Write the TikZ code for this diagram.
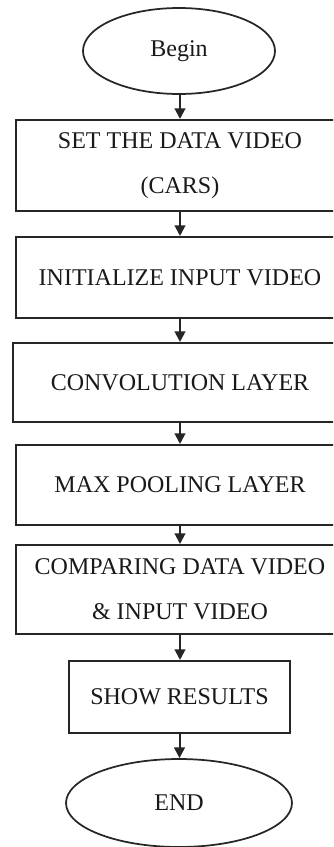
\documentclass[tikz,border=0pt]{standalone}
\usepackage{fontspec}
\setmainfont{Liberation Serif}
\usetikzlibrary{shapes.geometric,arrows.meta}
\tikzset{
  procbox/.style={draw=black!85, line width=1.5pt, rectangle, align=center,
    text=black!90, font=\fontsize{18}{33.75}\selectfont, inner sep=0pt},
  termnode/.style={draw=black!85, line width=1.3pt, ellipse, inner sep=0pt,
    text=black!90, font=\fontsize{18}{21}\selectfont},
  flowarrow/.style={line width=1.5pt, draw=black!85, -{Triangle[length=8pt,width=8pt]}}
}
\begin{document}
\begin{tikzpicture}[x=0.75pt,y=-0.75pt]
\path[use as bounding box, clip] (0,0) rectangle (333,847);
\fill[white] (0,0) rectangle (333,847);
\node[termnode, minimum width=144pt, minimum height=64.5pt] (begin) at (179,51) {Begin};
\node[procbox, minimum width=246pt, minimum height=68.25pt] (b1) at (180,165.5) {SET THE DATA VIDEO\\(CARS)};
\node[procbox, minimum width=246pt, minimum height=60.75pt] (b2) at (180,277.5) {INITIALIZE INPUT VIDEO};
\node[procbox, minimum width=250.5pt, minimum height=59.25pt] (b3) at (180,382.5) {CONVOLUTION LAYER};
\node[procbox, minimum width=246pt, minimum height=60pt] (b4) at (180,485) {MAX POOLING LAYER};
\node[procbox, minimum width=246pt, minimum height=66.75pt] (b5) at (180,589.5) {COMPARING DATA VIDEO\\\&~INPUT VIDEO};
\node[procbox, minimum width=165.75pt, minimum height=54pt] (b6) at (179.5,697) {SHOW RESULTS};
\node[termnode, minimum width=169.5pt, minimum height=66pt] (end) at (179,803) {END};
\draw[flowarrow] (begin.south -| b1.north) -- (b1.north);
\draw[flowarrow] (b1) -- (b2);
\draw[flowarrow] (b2) -- (b3);
\draw[flowarrow] (b3) -- (b4);
\draw[flowarrow] (b4) -- (b5);
\draw[flowarrow] (b5.south) -- (b5.south |- b6.north);
\draw[flowarrow] (b6.south) -- (b6.south |- end.north);
\end{tikzpicture}
\end{document}
